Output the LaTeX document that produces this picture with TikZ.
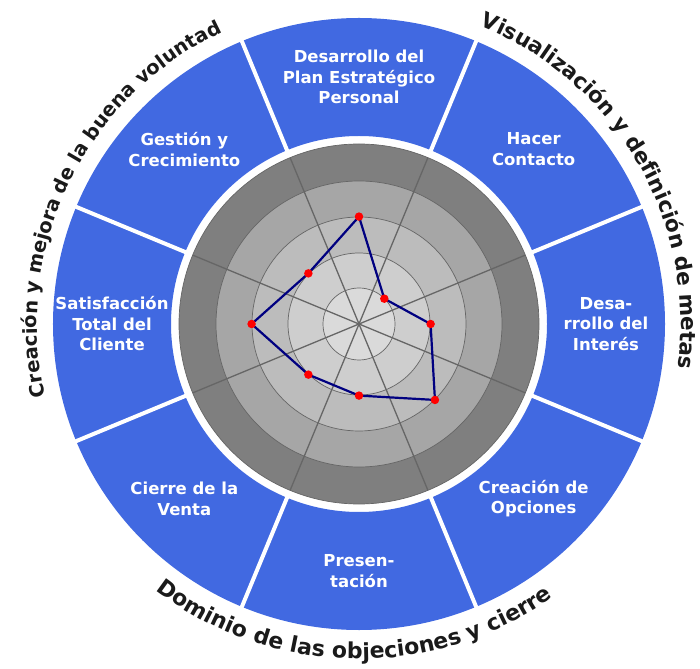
\documentclass[tikz,border=0pt]{standalone}
\usepackage{fontspec}
\setmainfont{DejaVu Sans}
\usepackage{tikz}
\usetikzlibrary{decorations.text}
\definecolor{ringblue}{HTML}{4169E1}
\definecolor{shadeA}{HTML}{7F7F7F}
\definecolor{shadeB}{HTML}{A6A6A6}
\definecolor{shadeC}{HTML}{BCBCBC}
\definecolor{shadeD}{HTML}{CECECE}
\definecolor{shadeE}{HTML}{DADADA}
\definecolor{gridgray}{HTML}{666666}
\definecolor{plotnavy}{HTML}{000080}
\definecolor{dotred}{HTML}{FF0000}
\definecolor{arcink}{HTML}{1A1A1A}
\newcommand\arcfont[1]{\bfseries\fontsize{#1}{#1}\selectfont}
\tikzset{
  seglabel/.style={text=white, font=\bfseries\fontsize{16.5}{20.5}\selectfont, align=center},
  gap/.style={draw=white, line width=4pt},
  spoke/.style={draw=gridgray, line width=1.3pt},
  ringline/.style={draw=gridgray, line width=0.7pt},
  dataline/.style={draw=plotnavy, line width=2.2pt, line join=round},
  pt/.style={circle, fill=dotred, inner sep=0pt, minimum size=8.5pt},
  arclab/.style={decorate, decoration={text along path, text align=center, text color=arcink}},
}

\begin{document}
\begin{tikzpicture}[x=1pt, y=1pt]
  \useasboundingbox (-359,-344) rectangle (341,324);
  % gray target, five levels
  \fill[shadeA] (0,0) circle (180);
  \fill[shadeB] (0,0) circle (143);
  \fill[shadeC] (0,0) circle (107);
  \fill[shadeD] (0,0) circle (71);
  \fill[shadeE] (0,0) circle (36);
  \foreach \r in {36,71,107,143,180}
    \draw[ringline] (0,0) circle (\r);
  \foreach \a in {22.5,67.5,...,337.5}
    \draw[spoke] (0,0) -- (\a:180);
  % blue ring cut in eight
  \fill[ringblue, even odd rule] (0,0) circle (306) circle (188);
  \foreach \a in {22.5,67.5,...,337.5}
    \draw[gap] (\a:186) -- (\a:308);
  \foreach \a/\id/\txt in {
      90/plan/{Desarrollo del\\Plan Estratégico\\Personal},
      45/contacto/{Hacer\\Contacto},
      0/interes/{Desa-\\rrollo del\\Interés},
      -45/opciones/{Creación de\\Opciones},
      -90/present/{Presen-\\tación},
      -135/cierre/{Cierre de la\\Venta},
      180/cliente/{Satisfacción\\Total del\\Cliente},
      135/gestion/{Gestión y\\Crecimiento}}
    \node[seglabel] (\id) at (\a:247) {\txt};
  % scores
  \foreach \a/\v/\id in {90/3/p1, 45/1/p2, 0/2/p3, -45/3/p4,
                         -90/2/p5, -135/2/p6, 180/3/p7, 135/2/p8}
    \coordinate (\id) at (\a:\v*35.8);
  \draw[dataline] (p1) -- (p2) -- (p3) -- (p4) -- (p5) -- (p6) -- (p7) -- (p8) -- cycle;
  \foreach \id in {p1,p2,p3,p4,p5,p6,p7,p8}
    \node[pt] (dot\id) at (\id) {};
  % curved titles
  \path[arclab, decoration={text={|\arcfont{21.5}|Visualización y definición de metas}}]
    (80:322) arc[start angle=80, end angle=-20, radius=322];
  \path[arclab, decoration={text={|\arcfont{19.5}|Creación y mejora de la buena voluntad}}]
    (204:322) arc[start angle=204, end angle=104, radius=322];
  \path[arclab, decoration={text={|\arcfont{22}|Dominio de las objeciones y cierre}}]
    (219:335) arc[start angle=219, end angle=319, radius=335];
\end{tikzpicture}
\end{document}
